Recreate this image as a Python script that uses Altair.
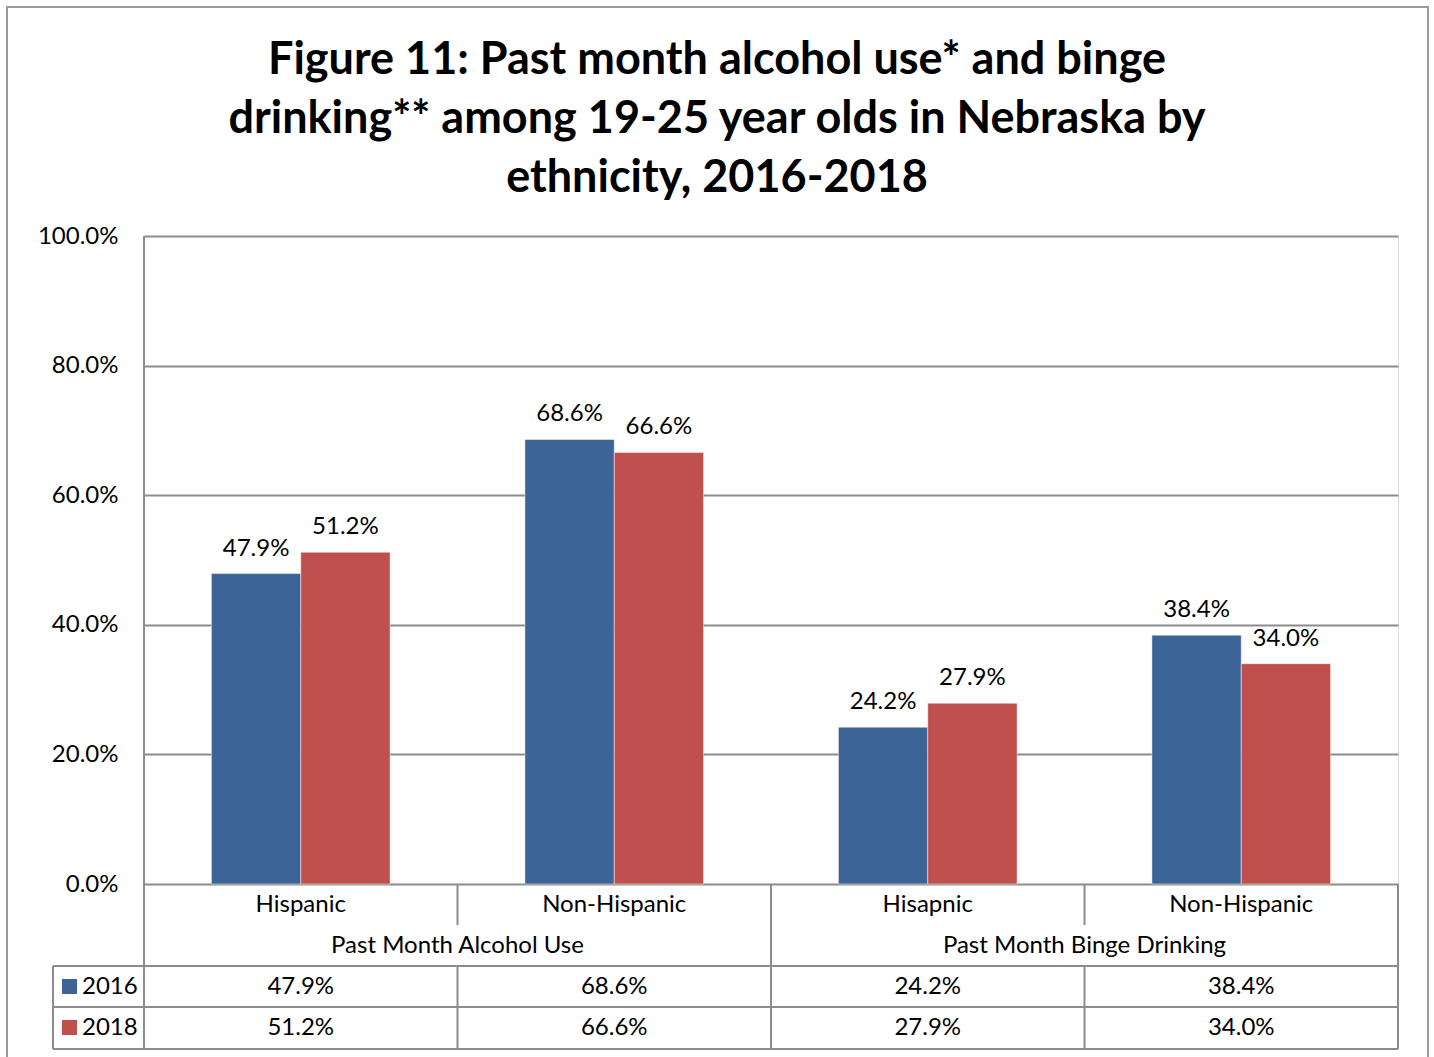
import altair as alt
import pandas as pd

# ---------------- data ----------------
title_lines = [
    "Figure 11: Past month alcohol use* and binge",
    "drinking** among 19-25 year olds in Nebraska by",
    "ethnicity, 2016-2018",
]
groups = ["Past Month Alcohol Use", "Past Month Alcohol Use",
          "Past Month Binge Drinking", "Past Month Binge Drinking"]
ethnicities = ["Hispanic", "Non-Hispanic", "Hisapnic", "Non-Hispanic"]
group_names = ["Past Month Alcohol Use", "Past Month Binge Drinking"]
years = ["2016", "2018"]
values_2016 = [0.479, 0.686, 0.242, 0.384]
values_2018 = [0.512, 0.666, 0.279, 0.340]
y_ticks = [0.0, 0.2, 0.4, 0.6, 0.8, 1.0]

# ---------------- styling / layout ----------------
FONT = "Lato"
FS = 24
BLUE = "#3C6496"
RED = "#C0504D"
GRID = "#8c8c8c"
FRAME = "#9a9a9a"
W, H = 1254, 648
PAD_L, PAD_T = 144, 236
ROW = 41  # table row height

keys = [f"{g}|{e}" for g, e in zip(groups, ethnicities)]
rows = []
for k, g, e, a, b in zip(keys, groups, ethnicities, values_2016, values_2018):
    rows.append({"key": k, "group": g, "eth": e, "year": years[0], "value": a})
    rows.append({"key": k, "group": g, "eth": e, "year": years[1], "value": b})
df = pd.DataFrame(rows)
cat_df = pd.DataFrame({"key": keys, "eth": ethnicities})
one = pd.DataFrame({"k": [0]})

x_enc = alt.X("key:N", sort=keys,
              scale=alt.Scale(domain=keys, paddingInner=0.43, paddingOuter=0.215),
              axis=None)
xoff_enc = alt.XOffset("year:N", sort=years,
                       scale=alt.Scale(domain=years, paddingInner=0, paddingOuter=0))
y_enc = alt.Y("value:Q",
              scale=alt.Scale(domain=[0, 1], nice=False, zero=True),
              axis=alt.Axis(values=y_ticks, format=".1%", grid=True,
                            gridColor=GRID, gridWidth=2, domain=False,
                            ticks=False, labelPadding=26, labelFontSize=FS,
                            labelFont=FONT, labelColor="black", title=None))
color_enc = alt.Color("year:N", scale=alt.Scale(domain=years, range=[BLUE, RED]),
                      legend=None)

bars = alt.Chart(df).mark_bar(stroke="white", strokeWidth=0.8, strokeOpacity=0.6).encode(
    x=x_enc, xOffset=xoff_enc, y=y_enc, color=color_enc
)
bar_labels = alt.Chart(df).mark_text(
    baseline="alphabetic", dy=-18, fontSize=FS, font=FONT, color="black"
).encode(
    x=x_enc, xOffset=xoff_enc, y=alt.Y("value:Q"),
    text=alt.Text("value:Q", format=".1%"),
)

layers = [bars, bar_labels]

# title lines (drawn as text marks, centred on the page)
for i, line in enumerate(title_lines):
    layers.append(
        alt.Chart(one).mark_text(
            text=line, font=FONT, fontSize=45, fontWeight="bold", color="black",
            align="center", baseline="alphabetic",
        ).encode(x=alt.value(717 - PAD_L), y=alt.value(74 - PAD_T + i * 59))
    )

# category labels (row 1)
layers.append(
    alt.Chart(cat_df).mark_text(baseline="middle", fontSize=FS, font=FONT, color="black").encode(
        x=x_enc, y=alt.value(H + ROW / 2), text="eth:N"
    )
)
# group labels (row 2)
for i, g in enumerate(group_names):
    layers.append(
        alt.Chart(one).mark_text(baseline="middle", fontSize=FS, font=FONT, color="black",
                                 text=g).encode(
            x=alt.value(W / 4 + i * W / 2), y=alt.value(H + ROW * 1.5)
        )
    )
# data table values (rows 3, 4)
for j, yr in enumerate(years):
    layers.append(
        alt.Chart(df).transform_filter(alt.datum.year == yr).mark_text(
            baseline="middle", fontSize=FS, font=FONT, color="black"
        ).encode(
            x=x_enc, y=alt.value(H + ROW * (2.5 + j)),
            text=alt.Text("value:Q", format=".1%"),
        )
    )
    # legend keys
    layers.append(
        alt.Chart(one).mark_rect(color=[BLUE, RED][j]).encode(
            x=alt.value(-82), x2=alt.value(-67),
            y=alt.value(H + ROW * (2.5 + j) - 7.5), y2=alt.value(H + ROW * (2.5 + j) + 7.5)
        )
    )
    layers.append(
        alt.Chart(one).mark_text(align="left", baseline="middle", fontSize=FS, font=FONT,
                                 color="black", text=yr).encode(
            x=alt.value(-62), y=alt.value(H + ROW * (2.5 + j))
        )
    )


def hline(x1, x2, y):
    return alt.Chart(one).mark_rule(color=GRID, strokeWidth=2).encode(
        x=alt.value(x1), x2=alt.value(x2), y=alt.value(y))


def vline(x, y1, y2):
    return alt.Chart(one).mark_rule(color=GRID, strokeWidth=2).encode(
        x=alt.value(x), y=alt.value(y1), y2=alt.value(y2))


TB = H + ROW * 4 + 1  # table bottom
layers.append(vline(0, 0, TB))          # left axis line through the table
layers.append(vline(W, H, TB))          # right border of table
layers.append(vline(W / 2, H, TB))      # divider between the two groups
for xq in (W / 4, 3 * W / 4):           # dividers between categories
    layers.append(vline(xq, H, H + ROW))
    layers.append(vline(xq, H + ROW * 2, TB))
for r in (2, 3):
    layers.append(hline(-91, W, H + ROW * r))
layers.append(hline(-91, W, TB))
layers.append(vline(-91, H + ROW * 2, TB))

# outer frame
layers.append(
    alt.Chart(one).mark_rect(fillOpacity=0, stroke=FRAME, strokeWidth=2).encode(
        x=alt.value(7 - PAD_L), x2=alt.value(1428 - PAD_L),
        y=alt.value(7 - PAD_T), y2=alt.value(1080 - PAD_T)
    )
)

chart = alt.layer(*layers).properties(
    width=W, height=H,
    autosize=alt.AutoSizeParams(type="none"),
    padding={"left": PAD_L, "top": PAD_T, "right": 1434 - PAD_L - W, "bottom": 1057 - PAD_T - H},
).configure_view(stroke=None).configure(background="white")

chart.save("out.html", embed_options={"renderer": "svg", "actions": False})
